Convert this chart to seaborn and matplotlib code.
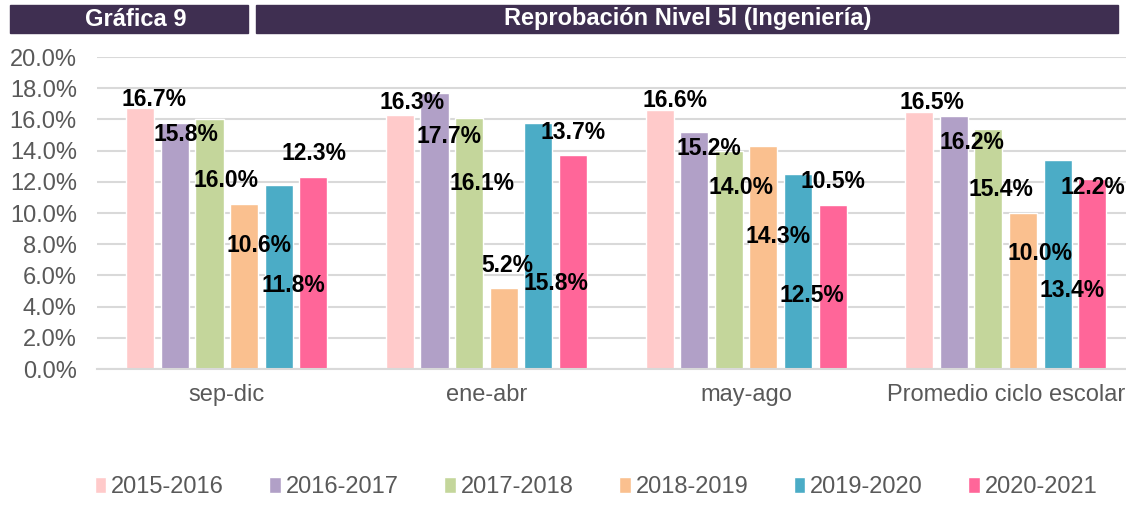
import matplotlib
matplotlib.use("Agg")
import matplotlib.pyplot as plt
from matplotlib.patches import Rectangle
from matplotlib.ticker import PercentFormatter, MultipleLocator
import seaborn as sns
import pandas as pd

# ---- data ----
categories = ["sep-dic", "ene-abr", "may-ago", "Promedio ciclo escolar"]
series = ["2015-2016", "2016-2017", "2017-2018", "2018-2019", "2019-2020", "2020-2021"]
v_2015_2016 = [16.7, 16.3, 16.6, 16.5]
v_2016_2017 = [15.8, 17.7, 15.2, 16.2]
v_2017_2018 = [16.0, 16.1, 14.0, 15.4]
v_2018_2019 = [10.6, 5.2, 14.3, 10.0]
v_2019_2020 = [11.8, 15.8, 12.5, 13.4]
v_2020_2021 = [12.3, 13.7, 10.5, 12.2]
values = [v_2015_2016, v_2016_2017, v_2017_2018, v_2018_2019, v_2019_2020, v_2020_2021]

title_left = "Gráfica 9"
title_right = "Reprobación Nivel 5l (Ingeniería)"

# ---- styling ----
colors = ["#FFCACA", "#B1A0C7", "#C4D69B", "#FAC08F", "#4BACC6", "#FF6699"]
# data-label offsets (pixels) from each bar's top centre, as placed in the original
label_dx = [[14, 11.7, 15.5, 12.5],
            [11.5, 14.5, 14.5, 18],
            [16.5, 12.5, 12, 13],
            [14.5, 3.5, 14.5, 17],
            [14.5, 18, 14, 14.5],
            [0.5, 0, 0, 0.7]]
label_dy = [[9, 12, 10, 9],
            [-12, -44, -17, -26],
            [-61, -66, -37, -61],
            [-42, 22, -91, -40],
            [-101, -161, -121, -131],
            [24, 23, 24, -9]]

rows = []
for s, vals in zip(series, values):
    for c, v in zip(categories, vals):
        rows.append({"periodo": c, "ciclo": s, "valor": v})
df = pd.DataFrame(rows)

sns.set_theme(style="white")
plt.rcParams["font.family"] = ["Liberation Sans", "DejaVu Sans"]

W, H = 1126, 516
fig = plt.figure(figsize=(W / 100, H / 100), dpi=100)
ax = fig.add_axes([97 / W, 147 / H, 1038.5 / W, 312 / H])

sns.barplot(data=df, x="periodo", y="valor", hue="ciclo", order=categories,
            hue_order=series, palette=colors, saturation=1, width=0.8, gap=0.19,
            ax=ax, legend=True)

ax.set_ylim(0, 20)
ax.yaxis.set_major_locator(MultipleLocator(2))
ax.yaxis.set_major_formatter(PercentFormatter(decimals=1))
ax.set_xlabel("")
ax.set_ylabel("")
ax.grid(axis="y", color="#D9D9D9", linewidth=1.5)
ax.set_axisbelow(True)
for sp in ["top", "right", "left"]:
    ax.spines[sp].set_visible(False)
ax.spines["bottom"].set_color("#D9D9D9")
ax.spines["bottom"].set_linewidth(1.5)
ax.tick_params(axis="y", length=0, pad=14.5, labelsize=17, labelcolor="#595959")
ax.tick_params(axis="x", length=0, pad=11, labelsize=17, labelcolor="#595959")

for i, cont in enumerate(ax.containers):
    for j, bar in enumerate(cont):
        h = bar.get_height()
        ax.annotate(f"{h:.1f}%", xy=(bar.get_x() + bar.get_width() / 2, h),
                    xytext=(label_dx[i][j], label_dy[i][j]), textcoords="offset pixels",
                    ha="center", va="center", fontsize=16.5, fontweight="bold",
                    color="black", zorder=5)

handles, labels = ax.get_legend_handles_labels()
ax.get_legend().remove()
fig.legend(handles, labels, loc="center", bbox_to_anchor=(596 / W, 29 / H), ncol=6,
           frameon=False, fontsize=17, labelcolor="#595959", handlelength=0.5,
           handleheight=0.65, handletextpad=0.2, columnspacing=1.92)

# title boxes
box_color = "#3F2F51"
fig.patches.append(Rectangle((10 / W, (H - 33) / H), 238 / W, 28 / H,
                             transform=fig.transFigure, color=box_color, zorder=0))
fig.patches.append(Rectangle((256 / W, (H - 33) / H), 862 / W, 28 / H,
                             transform=fig.transFigure, color=box_color, zorder=0))
fig.text(136 / W, (H - 19) / H, title_left, color="white", fontsize=17,
         fontweight="bold", ha="center", va="center")
fig.text(688 / W, (H - 19) / H, title_right, color="white", fontsize=17,
         fontweight="bold", ha="center", va="center")

fig.savefig("out.png", dpi=100)
